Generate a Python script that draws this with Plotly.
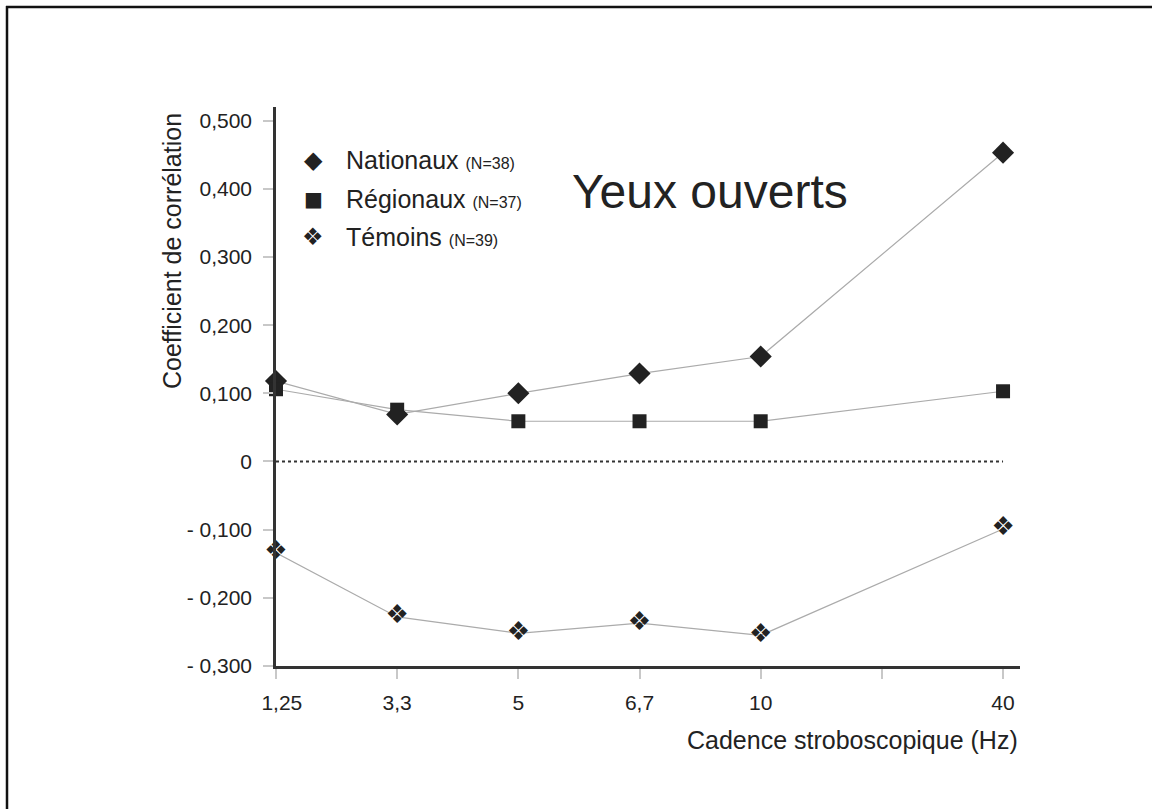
import plotly.graph_objects as go

# ---- data ----
tick_positions = [0, 1, 2, 3, 4, 5, 6]
tick_labels = ["\u00a0\u00a01,25", "3,3", "5", "6,7", "10", "", "40"]
x_pos = [0, 1, 2, 3, 4, 6]
nationaux = [0.118, 0.069, 0.100, 0.129, 0.154, 0.453]
regionaux = [0.106, 0.076, 0.059, 0.059, 0.059, 0.103]
temoins = [-0.134, -0.228, -0.252, -0.237, -0.255, -0.099]
y_ticks = [0.5, 0.4, 0.3, 0.2, 0.1, 0, -0.1, -0.2, -0.3]
y_tick_labels = ["0,500", "0,400", "0,300", "0,200", "0,100", "0", "- 0,100", "- 0,200", "- 0,300"]

W, H = 1152, 809
L, R, T, B = 276, 132, 107, 143
PW, PH = W - L - R, H - T - B

def px(x):
    return (x - L) / PW

def py(y):
    return (H - B - y) / PH

FONT = "Liberation Sans, Arial, sans-serif"
MK = "#222222"
LN = "#ababab"

fig = go.Figure()
fig.add_trace(go.Scatter(x=x_pos, y=nationaux, mode="lines+markers",
                         line=dict(color=LN, width=1.2),
                         marker=dict(symbol="diamond", size=17, color=MK),
                         cliponaxis=False, showlegend=False))
fig.add_trace(go.Scatter(x=x_pos, y=regionaux, mode="lines+markers",
                         line=dict(color=LN, width=1.2),
                         marker=dict(symbol="square", size=14, color=MK),
                         cliponaxis=False, showlegend=False))
fig.add_trace(go.Scatter(x=x_pos, y=temoins, mode="lines",
                         line=dict(color=LN, width=1.2),
                         cliponaxis=False, showlegend=False))
fig.add_trace(go.Scatter(x=x_pos, y=temoins, mode="text",
                         text=["❖"] * len(x_pos), textposition="middle center",
                         textfont=dict(family="DejaVu Sans", size=26, color=MK),
                         cliponaxis=False, showlegend=False))

shapes = [
    dict(type="line", xref="x", yref="y", x0=0, x1=6, y0=0, y1=0,
         line=dict(color="#333333", width=2, dash="dot")),
    # page frame
    dict(type="line", xref="paper", yref="paper", x0=px(6), x1=px(1152), y0=py(7), y1=py(7),
         line=dict(color="#111111", width=2.5)),
    dict(type="line", xref="paper", yref="paper", x0=px(7), x1=px(7), y0=py(6), y1=py(809),
         line=dict(color="#111111", width=2.5)),
]

annotations = [
    dict(text="Coefficient de corrélation", xref="paper", yref="paper",
         x=px(172), y=py(251), textangle=-90, showarrow=False,
         font=dict(family=FONT, size=25, color="#222"), xanchor="center", yanchor="middle"),
    dict(text="Cadence stroboscopique (Hz)", xref="paper", yref="paper",
         x=px(1020), y=py(740), showarrow=False,
         font=dict(family=FONT, size=25, color="#222"), xanchor="right", yanchor="middle"),
    dict(text="Yeux ouverts", xref="paper", yref="paper",
         x=px(570), y=py(191), showarrow=False,
         font=dict(family=FONT, size=48, color="#222"), xanchor="left", yanchor="middle"),
]

legend_items = [
    ("◆", "Nationaux", "(N=38)", 160, 24),
    ("■", "Régionaux", "(N=37)", 199, 20),
    ("❖", "Témoins", "(N=39)", 237, 24),
]
for sym, name, n, yy, ss in legend_items:
    annotations.append(dict(text=sym, xref="paper", yref="paper", x=px(313), y=py(yy),
                            showarrow=False, xanchor="center", yanchor="middle",
                            font=dict(family="DejaVu Sans", size=ss, color=MK)))
    annotations.append(dict(text=f"{name} <span style='font-size:16px'>{n}</span>",
                            xref="paper", yref="paper", x=px(344), y=py(yy),
                            showarrow=False, xanchor="left", yanchor="middle",
                            font=dict(family=FONT, size=25, color="#222")))

fig.update_layout(
    width=W, height=H,
    margin=dict(l=L, r=R, t=T, b=B, autoexpand=False),
    paper_bgcolor="white", plot_bgcolor="white",
    shapes=shapes, annotations=annotations,
    xaxis=dict(range=[0, 6.14], tickmode="array", tickvals=tick_positions, ticktext=tick_labels,
               showgrid=False, zeroline=False, showline=True, linecolor="#333", linewidth=2.5,
               ticks="outside", ticklen=10, tickcolor="#c8c8c8", tickwidth=1.5,
               ticklabelstandoff=6,
               tickfont=dict(family=FONT, size=21, color="#222")),
    yaxis=dict(range=[-0.3, 0.52], tickmode="array", tickvals=y_ticks, ticktext=y_tick_labels,
               showgrid=False, zeroline=False, showline=True, linecolor="#333", linewidth=2.5,
               ticks="outside", ticklen=10, tickcolor="#c8c8c8", tickwidth=1.5,
               ticklabelstandoff=7,
               tickfont=dict(family=FONT, size=21, color="#222")),
)

fig.write_html("out.html")
